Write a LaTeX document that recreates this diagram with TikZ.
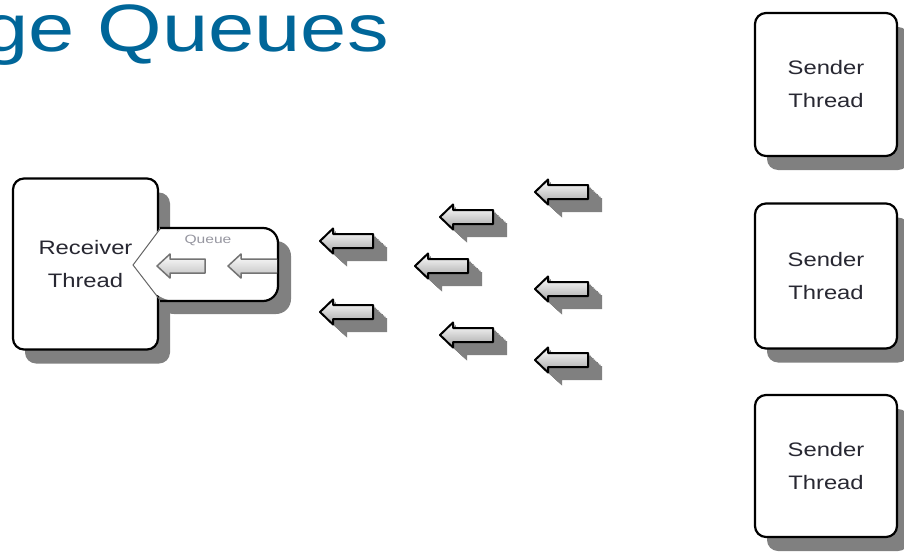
\documentclass[tikz,border=0pt]{standalone}
\usepackage{fontspec}
\setmainfont{Liberation Sans}
\usetikzlibrary{shadows}
\definecolor{titleblue}{RGB}{0,102,153}
\definecolor{shadowgray}{RGB}{128,128,128}
\definecolor{txtgray}{RGB}{40,40,50}
\definecolor{qlabel}{RGB}{150,150,160}
\newcommand{\widetext}[1]{\scalebox{1.22}[1]{#1}}
\begin{document}
\begin{tikzpicture}[x=1pt,y=-1pt,
  threadbox/.style={draw=black, line width=2.2pt, rounded corners=11pt, fill=white,
    inner sep=0pt, align=center, text=txtgray, font=\fontsize{19.5}{33}\selectfont,
    drop shadow={shadow xshift=12pt, shadow yshift=-14pt, fill=shadowgray, opacity=1}},
  arrowbody/.style={top color=white, bottom color=black!35, draw=black, line width=2pt, line join=round},
  qarrowbody/.style={top color=white, bottom color=black!25, draw=black!55, line width=1.5pt, line join=round},
  blockarrow/.pic={
    \foreach \s in {0.1,0.2,...,1.0}
      \fill[shadowgray, shift={(14*\s,13*\s)}] (0,0) -- (13,-12.5) -- (13,-7) -- (53,-7) -- (53,7) -- (13,7) -- (13,12.5) -- cycle;
    \path[arrowbody] (0,0) -- (13,-12.5) -- (13,-7) -- (53,-7) -- (53,7) -- (13,7) -- (13,12.5) -- cycle;
  }]
\useasboundingbox (0,0) rectangle (904,551);
\fill[white] (0,0) rectangle (904,551);

% title
\node[anchor=base east, text=titleblue, font=\fontsize{67}{70}\selectfont, inner sep=0pt] (title) at (389,52) {\scalebox{1.24}[1]{ge Queues}};

% receiver
\node[threadbox, minimum width=145pt, minimum height=171pt] (recv) at (85.5,264) {\widetext{Receiver}\\\widetext{Thread}};

% queue
\fill[shadowgray, rounded corners=15pt] (159,241) -- (291,241) -- (291,314) -- (159,314) [sharp corners] -- cycle;
\fill[white, rounded corners=15pt] (160,228) -- (278,228) -- (278,301) -- (160,301) [sharp corners] -- (133,265) -- cycle;
\draw[black, line width=2.2pt, rounded corners=15pt] (160,228) -- (278,228) -- (278,301) -- (160,301);
\draw[black!60, line width=1pt] (160,229) -- (133,265) -- (160,300);
\node[font=\fontsize{12}{13}\selectfont, text=qlabel, inner sep=0pt] (qlab) at (208,240) {\scalebox{1.3}[1]{Queue}};

% arrows inside queue
\path[qarrowbody] (157,266) -- (170,254) -- (170,259) -- (205,259) -- (205,273) -- (170,273) -- (170,278) -- cycle;
\fill[top color=white, bottom color=black!25] (228,266) -- (241,254) -- (241,259) -- (277,259) -- (277,273) -- (241,273) -- (241,278) -- cycle;
\draw[draw=black!55, line width=1.5pt, line join=round] (277,259) -- (241,259) -- (241,254) -- (228,266) -- (241,278) -- (241,273) -- (277,273);

% flying messages
\pic at (320,241) {blockarrow};
\pic at (320,312) {blockarrow};
\pic at (440,217) {blockarrow};
\pic at (415,266) {blockarrow};
\pic at (440,335) {blockarrow};
\pic at (535,192) {blockarrow};
\pic at (535,289) {blockarrow};
\pic at (535,360) {blockarrow};

% senders
\node[threadbox, minimum width=142pt, minimum height=143pt] (s1) at (826,84.5) {\widetext{Sender}\\\widetext{Thread}};
\node[threadbox, minimum width=142pt, minimum height=145pt] (s2) at (826,276) {\widetext{Sender}\\\widetext{Thread}};
\node[threadbox, minimum width=142pt, minimum height=142pt] (s3) at (826,466) {\widetext{Sender}\\\widetext{Thread}};
\end{tikzpicture}
\end{document}
